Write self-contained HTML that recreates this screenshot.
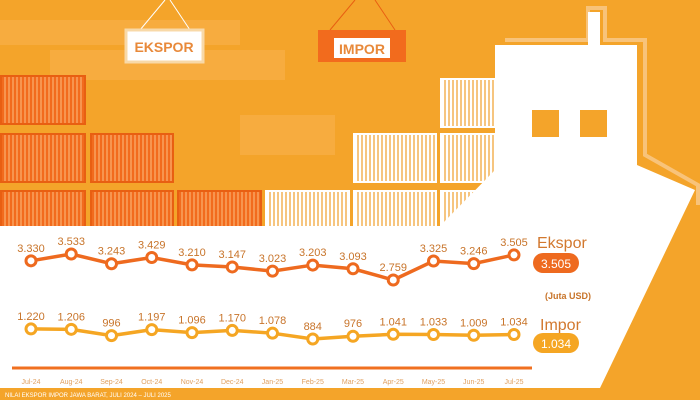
<!DOCTYPE html>
<html><head><meta charset="utf-8"><style>
body{margin:0;width:700px;height:400px;overflow:hidden;background:#F4A42A;font-family:"Liberation Sans",sans-serif}
#root{position:relative;width:700px;height:400px}
.c{position:absolute;border:2px solid;box-sizing:border-box;background:repeating-linear-gradient(90deg,var(--a) 0 2px,var(--b) 2px 4px)}
.o{--a:#F26B1D;--b:#F7954F;border-color:#E85F12}
.w{--a:#fff;--b:#F6C57F;border-color:#fff}
</style></head><body><div id="root">
<svg width="700" height="400" style="position:absolute;left:0;top:0">
<rect x="0" y="0" width="700" height="400" fill="#F4A42A"/>
<path d="M0 20 H240 V45 H0Z M50 50 H285 V80 H50Z M240 115 H335 V155 H240Z" fill="#F8B34E" opacity="0.6"/>
</svg>
<div class="c o" style="left:0;top:75px;width:86px;height:50px"></div>
<div class="c o" style="left:0;top:133px;width:86px;height:50px"></div>
<div class="c o" style="left:0;top:190px;width:86px;height:40px"></div>
<div class="c o" style="left:90px;top:133px;width:84px;height:50px"></div>
<div class="c o" style="left:90px;top:190px;width:84px;height:40px"></div>
<div class="c o" style="left:177px;top:190px;width:85px;height:40px"></div>
<div class="c o" style="left:0;top:250px;width:262px;height:10px;display:none"></div>
<div class="c w" style="left:265px;top:190px;width:85px;height:40px"></div>
<div class="c w" style="left:353px;top:133px;width:84px;height:50px"></div>
<div class="c w" style="left:353px;top:190px;width:84px;height:40px"></div>
<div class="c w" style="left:440px;top:78px;width:70px;height:50px"></div>
<div class="c w" style="left:440px;top:133px;width:70px;height:50px"></div>
<div class="c w" style="left:440px;top:190px;width:70px;height:40px"></div>
<svg width="700" height="400" style="position:absolute;left:0;top:0">
<line x1="140" y1="30" x2="165" y2="0" stroke="#fff" stroke-width="1"/><line x1="190" y1="30" x2="170" y2="0" stroke="#fff"/>
<line x1="330" y1="30" x2="355" y2="0" stroke="#E85F12"/><line x1="395" y1="30" x2="375" y2="0" stroke="#E85F12"/>
<rect x="126" y="30" width="77" height="32" fill="#fff" stroke="#F8D9A8" stroke-width="3"/>
<text x="164" y="52" text-anchor="middle" font-size="14" fill="#E8893A" font-weight="bold">EKSPOR</text>
<rect x="318" y="30" width="88" height="32" fill="#F26B1D"/>
<rect x="334" y="38" width="56" height="20" fill="#fff"/>
<text x="362" y="54" text-anchor="middle" font-size="14" fill="#E8893A" font-weight="bold">IMPOR</text>
<polyline points="505,40 588,40 588,8 605,8 605,40 645,40 645,155 698,185 698,205" fill="none" stroke="#F8C37A" stroke-width="4"/>
<polygon points="495,45 588,45 588,12 600,12 600,45 637,45 637,165 695,190 600,388 0,388 0,226 440,226 495,170" fill="#fff"/>
<rect x="532" y="110" width="27" height="27" fill="#F4A42A"/><rect x="580" y="110" width="27" height="27" fill="#F4A42A"/>
<rect x="0" y="388" width="700" height="12" fill="#F4A42A"/>
<text x="5" y="397" font-size="6" fill="#fff">NILAI EKSPOR IMPOR JAWA BARAT, JULI 2024 – JULI 2025</text>
<line x1="12" y1="368" x2="532" y2="368" stroke="#F07020" stroke-width="3"/>
<g id="chart"></g>
<text x="537" y="248" font-size="16" fill="#D2782E">Ekspor</text>
<rect x="533" y="253" width="46" height="20" rx="10" fill="#EE6A1F"/>
<text x="556" y="268" text-anchor="middle" font-size="12" fill="#fff">3.505</text>
<text x="545" y="299" font-size="9" font-weight="bold" fill="#C8742A">(Juta USD)</text>
<text x="540" y="330" font-size="16" fill="#D2782E">Impor</text>
<rect x="533" y="333" width="46" height="20" rx="10" fill="#F5A623"/>
<text x="556" y="348" text-anchor="middle" font-size="12" fill="#fff">1.034</text>
</svg>
<script>
const months=["Jul-24","Aug-24","Sep-24","Oct-24","Nov-24","Dec-24","Jan-25","Feb-25","Mar-25","Apr-25","May-25","Jun-25","Jul-25"];
const ekspor=[3330,3533,3243,3429,3210,3147,3023,3203,3093,2759,3325,3246,3505];
const impor=[1220,1206,996,1197,1096,1170,1078,884,976,1041,1033,1009,1034];
const x=i=>31+i*40.25;
const yE=v=>280-(v-2759)*0.0336;
const yI=v=>339-(v-884)*0.03;
const fmt=v=>v>=1000?(Math.floor(v/1000)+"."+String(v%1000).padStart(3,"0")):String(v);
const g=document.getElementById("chart");const NS="http://www.w3.org/2000/svg";
function mk(t,a){const e=document.createElementNS(NS,t);for(const k in a)e.setAttribute(k,a[k]);g.appendChild(e);return e;}
function series(data,y,col,name){
 const pl=mk("polyline",{points:data.map((v,i)=>x(i)+","+y(v)).join(" "),fill:"none",stroke:col,"stroke-width":3.5});
 
 
 data.forEach((v,i)=>{
  const c=mk("circle",{cx:x(i),cy:y(v),r:5,fill:"#fff",stroke:col,"stroke-width":3});
  
  
  const t=mk("text",{x:x(i),y:y(v)-9,"text-anchor":"middle","font-size":11,fill:"#C8742A"});
  t.textContent=fmt(v);
  
  
 });
}
series(ekspor,yE,"#EE6A1F","ekspor");
series(impor,yI,"#F5A623","impor");
months.forEach((m,i)=>{const t=mk("text",{x:x(i),y:384,"text-anchor":"middle","font-size":7,fill:"#E0A060"});t.textContent=m;
 
 });
</script>
</div></body></html>
